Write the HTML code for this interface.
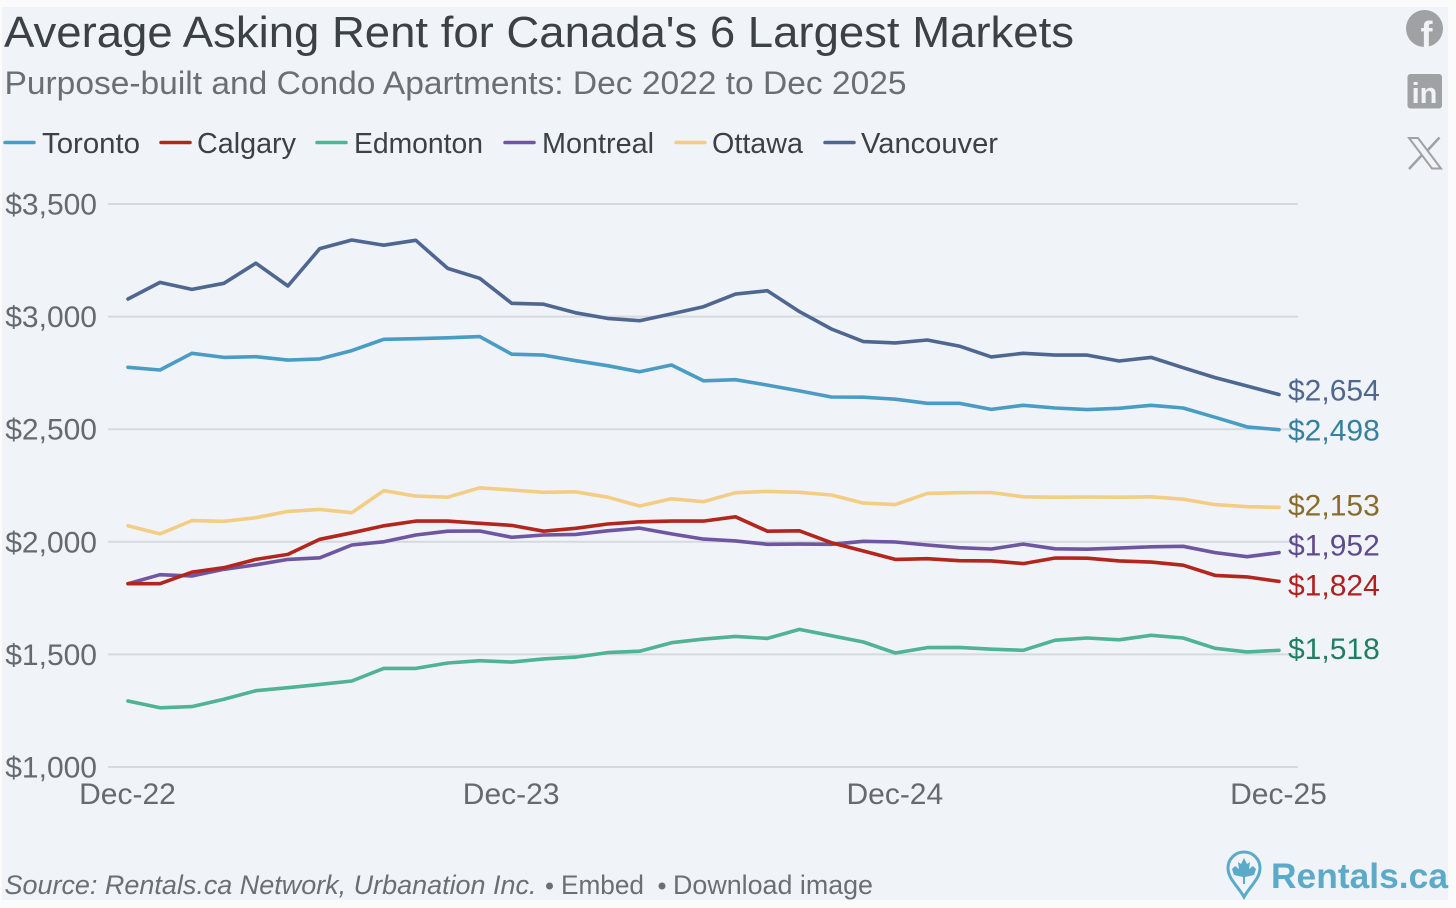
<!DOCTYPE html>
<html lang="en">
<head>
<meta charset="utf-8">
<title>Average Asking Rent for Canada's 6 Largest Markets</title>
<style>
html,body{margin:0;padding:0;background:#fbfbfc;}
svg{display:block;font-family:"Liberation Sans",sans-serif;}
</style>
</head>
<body>
<svg id="chart" xmlns="http://www.w3.org/2000/svg" width="1456" height="908" viewBox="0 0 1456 908">
  <rect x="2" y="7" width="1446" height="893" fill="#f0f4f9"/>
  <text x="4" y="47" font-size="44" fill="#3c4145" textLength="1070" lengthAdjust="spacingAndGlyphs">Average Asking Rent for Canada's 6 Largest Markets</text>
  <text x="4.500" y="94" font-size="32" fill="#6b6e72" textLength="902" lengthAdjust="spacingAndGlyphs">Purpose-built and Condo Apartments: Dec 2022 to Dec 2025</text>

  <g font-size="29" fill="#3c4145">
    <g><line x1="5" x2="34" y1="142.500" y2="142.500" stroke="#4a9cc4" stroke-width="3.500" stroke-linecap="round"/><text x="42" y="153" textLength="98" lengthAdjust="spacingAndGlyphs">Toronto</text></g>
    <g><line x1="161" x2="190" y1="142.500" y2="142.500" stroke="#b3261e" stroke-width="3.500" stroke-linecap="round"/><text x="197" y="153" textLength="99" lengthAdjust="spacingAndGlyphs">Calgary</text></g>
    <g><line x1="317" x2="346" y1="142.500" y2="142.500" stroke="#4fb394" stroke-width="3.500" stroke-linecap="round"/><text x="354" y="153" textLength="129" lengthAdjust="spacingAndGlyphs">Edmonton</text></g>
    <g><line x1="505" x2="534" y1="142.500" y2="142.500" stroke="#6f56a0" stroke-width="3.500" stroke-linecap="round"/><text x="542" y="153" textLength="112" lengthAdjust="spacingAndGlyphs">Montreal</text></g>
    <g><line x1="676" x2="705" y1="142.500" y2="142.500" stroke="#f3cd84" stroke-width="3.500" stroke-linecap="round"/><text x="712" y="153" textLength="91" lengthAdjust="spacingAndGlyphs">Ottawa</text></g>
    <g><line x1="825" x2="854" y1="142.500" y2="142.500" stroke="#4f6790" stroke-width="3.500" stroke-linecap="round"/><text x="861" y="153" textLength="137" lengthAdjust="spacingAndGlyphs">Vancouver</text></g>
  </g>

  <g id="grid"></g>
  <g id="yticks"></g>
  <g id="xticks"></g>
  <g id="lines"></g>
  <g id="endlabels"></g>

  <g>
    <g>
      <circle cx="1424.500" cy="28.500" r="18.500" fill="#a0a1a2"/>
      <text x="1426.500" y="47" font-size="36" font-weight="bold" fill="#f0f4f9" text-anchor="middle">f</text>
    </g>
    <g>
      <rect x="1407.500" y="74" width="34.500" height="34.500" rx="3" fill="#a0a1a2"/>
      <text x="1424.500" y="103" font-size="29" font-weight="bold" fill="#f0f4f9" text-anchor="middle">in</text>
    </g>
    <g stroke="#a0a1a2" fill="none">
      <path d="M1409 138 L1418 138 L1441 168.500 L1432 168.500 Z" stroke-width="2"/>
      <line x1="1439.500" y1="137.500" x2="1427" y2="151" stroke-width="2.500"/>
      <line x1="1422" y1="155" x2="1409" y2="169" stroke-width="2.500"/>
    </g>
  </g>

  <g font-size="27" fill="#6b6e72">
    <text x="4.500" y="894" font-style="italic" textLength="532" lengthAdjust="spacingAndGlyphs">Source: Rentals.ca Network, Urbanation Inc.</text>
    <circle cx="549.500" cy="886" r="3.500" fill="#6b6e72"/>
    <text x="561" y="894" textLength="83" lengthAdjust="spacingAndGlyphs">Embed</text>
    <circle cx="662" cy="886" r="3.500" fill="#6b6e72"/>
    <text x="673" y="894" textLength="200" lengthAdjust="spacingAndGlyphs">Download image</text>
  </g>

  <g>
    <path d="M1244 897 C1238 886 1228 879 1228 868 A16 16 0 0 1 1260 868 C1260 879 1250 886 1244 897 Z" fill="none" stroke="#5aaac8" stroke-width="3"/>
    <path d="M1244 858 L1247 864 L1250 862 L1249 869 L1253 866 L1256 869 L1254 875 L1245 877 L1245 884 L1243 884 L1243 877 L1234 875 L1232 869 L1235 866 L1239 869 L1238 862 L1241 864 Z" fill="#5aaac8"/>
    <text x="1271" y="888" font-size="35" font-weight="bold" fill="#5aaac8" textLength="177" lengthAdjust="spacingAndGlyphs">Rentals.ca</text>
  </g>
</svg>
<script>
const categories = ["Dec-22","Jan-23","Feb-23","Mar-23","Apr-23","May-23","Jun-23","Jul-23","Aug-23","Sep-23","Oct-23","Nov-23","Dec-23","Jan-24","Feb-24","Mar-24","Apr-24","May-24","Jun-24","Jul-24","Aug-24","Sep-24","Oct-24","Nov-24","Dec-24","Jan-25","Feb-25","Mar-25","Apr-25","May-25","Jun-25","Jul-25","Aug-25","Sep-25","Oct-25","Nov-25","Dec-25"];
const xTickLabels = ["Dec-22","Dec-23","Dec-24","Dec-25"];
const yTickValues = [1000,1500,2000,2500,3000,3500];
const edmonton = [1293,1263,1268,1301,1339,1352,1367,1382,1438,1438,1462,1472,1466,1480,1488,1508,1514,1552,1568,1580,1571,1611,1583,1555,1506,1530,1531,1523,1518,1563,1573,1565,1585,1573,1527,1511,1518];
const montreal = [1814,1854,1848,1878,1898,1922,1929,1986,2000,2030,2047,2048,2020,2030,2033,2049,2061,2035,2012,2004,1989,1990,1989,2002,1999,1986,1974,1968,1990,1969,1967,1972,1978,1980,1952,1934,1952];
const calgary = [1814,1814,1865,1885,1922,1944,2011,2040,2071,2092,2092,2082,2073,2047,2060,2079,2089,2092,2092,2111,2047,2049,1996,1959,1922,1925,1916,1915,1903,1928,1927,1915,1910,1896,1851,1844,1824];
const ottawa = [2071,2035,2094,2091,2107,2135,2144,2129,2227,2203,2198,2240,2230,2220,2222,2198,2159,2191,2178,2218,2224,2220,2208,2172,2165,2215,2218,2219,2200,2198,2199,2198,2200,2189,2165,2156,2153];
const toronto = [2775,2763,2837,2819,2822,2807,2812,2849,2899,2902,2906,2911,2833,2829,2804,2782,2755,2785,2715,2720,2696,2670,2643,2642,2633,2615,2615,2588,2606,2594,2587,2593,2606,2594,2553,2510,2498];
const vancouver = [3078,3152,3121,3148,3237,3136,3302,3340,3317,3339,3214,3170,3059,3055,3017,2992,2982,3012,3044,3100,3115,3022,2945,2889,2883,2896,2869,2821,2837,2829,2829,2803,2819,2773,2729,2692,2654];

const NS = "http://www.w3.org/2000/svg";
const X0 = 128, X1 = 1279, Y_AT_MIN = 767, Y_AT_MAX = 204, V_MIN = 1000, V_MAX = 3500;
function xScale(i){ return X0 + (X1 - X0) * i / (categories.length - 1); }
function yScale(v){ return Y_AT_MIN - (v - V_MIN) * (Y_AT_MIN - Y_AT_MAX) / (V_MAX - V_MIN); }
function money(v){ return "$" + v.toLocaleString("en-US"); }
function mk(tag, parent, attrs, text){
  const el = document.createElementNS(NS, tag);
  for (const k in attrs) el.setAttribute(k, attrs[k]);
  if (text !== undefined) el.textContent = text;
  parent.appendChild(el);
  return el;
}

const gridG = document.getElementById("grid");
const yG = document.getElementById("yticks");
yTickValues.forEach(function(v){
  const gl = mk("line", gridG, {x1:108, x2:1298, y1:yScale(v), y2:yScale(v), stroke:"#d6dadd", "stroke-width":2});
  
  
  const t = mk("text", yG, {x:97, y:yScale(v)+10.5, "text-anchor":"end", "font-size":30, fill:"#666a6e"}, money(v));
  
  
});

const xG = document.getElementById("xticks");
xTickLabels.forEach(function(lab){
  const t = mk("text", xG, {x:xScale(categories.indexOf(lab)) - 0.5, y:804, "text-anchor":"middle", "font-size":30, fill:"#666a6e"}, lab);
  
  
});

const seriesOrder = [
  {key:"edmonton", values:edmonton, color:"#4fb394", labelColor:"#1f7f60"},
  {key:"montreal", values:montreal, color:"#6f56a0", labelColor:"#5f4a8e"},
  {key:"calgary", values:calgary, color:"#b3261e", labelColor:"#b0201f"},
  {key:"ottawa", values:ottawa, color:"#f3cd84", labelColor:"#8a6c2a"},
  {key:"toronto", values:toronto, color:"#4a9cc4", labelColor:"#35809f"},
  {key:"vancouver", values:vancouver, color:"#4f6790", labelColor:"#4f6790"}
];

const linesG = document.getElementById("lines");
seriesOrder.forEach(function(s){
  const pts = s.values.map(function(v,i){ return xScale(i).toFixed(1) + "," + yScale(v).toFixed(1); }).join(" ");
  const pl = mk("polyline", linesG, {points:pts, fill:"none", stroke:s.color, "stroke-width":3.6, "stroke-linejoin":"round", "stroke-linecap":"round"});
  
  
});

/* End labels: start at each series' final value and push apart so they do not collide. */
const labels = seriesOrder.map(function(s){
  const last = s.values[s.values.length - 1];
  return {key:s.key, value:last, color:s.labelColor, y:yScale(last)};
}).sort(function(a,b){ return a.y - b.y; });
const MIN_GAP = 40;
for (let pass = 0; pass < 20; pass++) {
  for (let i = 1; i < labels.length; i++) {
    const gap = labels[i].y - labels[i-1].y;
    if (gap < MIN_GAP) {
      const d = (MIN_GAP - gap) / 2;
      labels[i-1].y -= d;
      labels[i].y += d;
    }
  }
}
const endG = document.getElementById("endlabels");
labels.forEach(function(l){
  const t = mk("text", endG, {x:1288, y:l.y + 8.5, "font-size":30, fill:l.color}, money(l.value));
  
  
});
</script>
</body>
</html>
